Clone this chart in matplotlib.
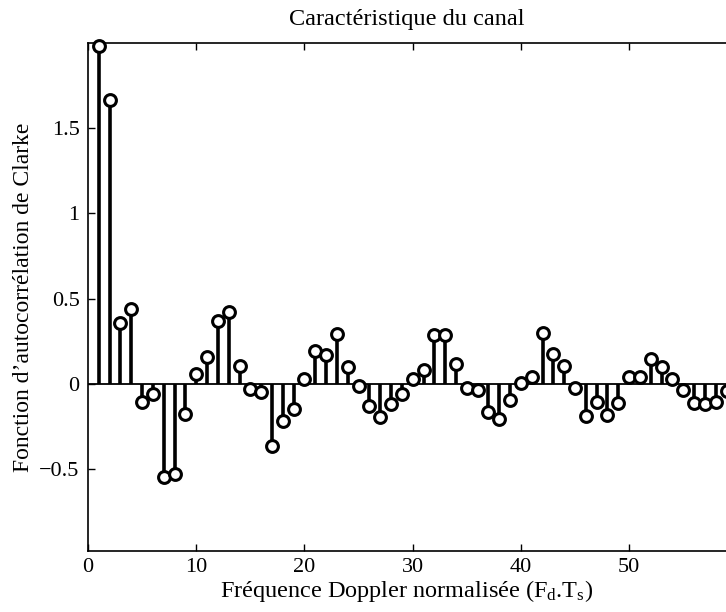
import numpy as np
import matplotlib
matplotlib.use('Agg')
import matplotlib.pyplot as plt

plt.rcParams['font.family'] = ['Liberation Serif', 'DejaVu Serif']
plt.rcParams['mathtext.fontset'] = 'custom'
plt.rcParams['mathtext.rm'] = 'Liberation Serif'
plt.rcParams['mathtext.it'] = 'Liberation Serif:italic'

# données
frequences = np.arange(1, 60)
autocorr = [1.98, 1.665, 0.36, 0.44, -0.107, -0.056, -0.547, -0.53, -0.173, 0.058,
            0.16, 0.368, 0.424, 0.106, -0.027, -0.049, -0.363, -0.217, -0.144, 0.029,
            0.195, 0.17, 0.29, 0.097, -0.01, -0.13, -0.194, -0.12, -0.056, 0.029,
            0.083, 0.287, 0.287, 0.116, -0.021, -0.035, -0.163, -0.204, -0.091, 0.006,
            0.041, 0.30, 0.176, 0.106, -0.023, -0.188, -0.107, -0.184, -0.11, 0.038,
            0.042, 0.145, 0.099, 0.029, -0.037, -0.11, -0.115, -0.107, -0.04]
yticks = [-0.5, 0, 0.5, 1, 1.5]
yticklabels = ['\u22120.5', '0', '0.5', '1', '1.5']
xticks = [0, 10, 20, 30, 40, 50]

fig = plt.figure(figsize=(7.26, 6.12), dpi=100)
ax = fig.add_axes([88/726, 1 - 551/612, 1 - 88/726, (551 - 43.3)/612])

# tiges
ax.vlines(frequences, 0, autocorr, color='black', linewidth=2.6, zorder=2)
ax.axhline(0, color='black', linewidth=1.3, zorder=1)
ax.plot(frequences, autocorr, 'o', markersize=8.5, markerfacecolor='white',
        markeredgecolor='black', markeredgewidth=2.2, zorder=3, clip_on=False)

ax.set_xlim(0, 58.95)
ax.set_ylim(-0.978, 1.995)
ax.set_xticks(xticks)
ax.set_yticks(yticks)
ax.set_yticklabels(yticklabels)
ax.tick_params(direction='in', length=5, width=1, labelsize=16, top=True,
               right=False, pad=6)
ax.tick_params(axis='x', pad=5)
ax.spines['right'].set_visible(False)
for s in ['left', 'bottom', 'top']:
    ax.spines[s].set_linewidth(1.2)

ax.set_title('Caractéristique du canal', fontsize=17.5, pad=13)
ax.set_xlabel('Fréquence Doppler normalisée (F$_\\mathrm{d}$.T$_\\mathrm{s}$)', fontsize=17.5, labelpad=1)
ax.set_ylabel('Fonction d\u2019autocorrélation de Clarke', fontsize=17, labelpad=4)

fig.savefig('out.png', dpi=100)
